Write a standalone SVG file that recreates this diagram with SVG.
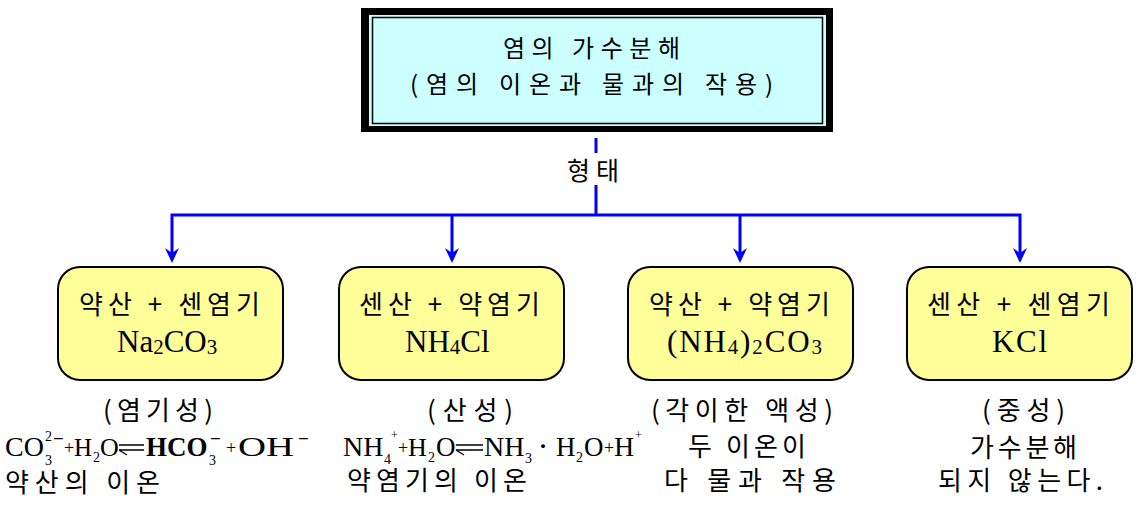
<svg xmlns="http://www.w3.org/2000/svg" width="1137" height="508" viewBox="0 0 1137 508">
<defs>
<style>
.ko{font-family:"Noto Sans CJK KR","Noto Sans",sans-serif;fill:#000;}
.f{font-family:"Liberation Serif","Times New Roman",serif;fill:#000;}
.box{fill:#FFFF99;stroke:#000;stroke-width:2;}
.blue{fill:none;stroke:#0000FF;stroke-width:3;}
.eq{fill:none;stroke:#000;stroke-width:1.4;}
.sb{font-size:14px;}
.sp{font-size:12px;}
.mn{font-size:19px;font-weight:bold;}
.pl{font-size:18px;}
</style>
<marker id="ah" markerUnits="userSpaceOnUse" markerWidth="16" markerHeight="16" refX="5" refY="7" orient="auto-start-reverse">
<path d="M0,0 L15,7 L0,14 L5,7 Z" fill="#0000FF"/>
</marker>
</defs>
<rect width="1137" height="508" fill="#fff"/>

<g id="node-top">
<rect x="361" y="8" width="472" height="124" fill="#000"/>
<rect x="369" y="15" width="457" height="111" fill="#CCFFFF"/>
<rect x="372.5" y="17.5" width="450" height="106" fill="#CCFFFF" stroke="#000" stroke-width="1.5"/>
<text class="ko" x="503" y="57" font-size="24" textLength="177" lengthAdjust="spacing">염의 가수분해</text>
<text class="ko" x="410" y="93" font-size="24" textLength="363" lengthAdjust="spacing">(염의 이온과 물과의 작용)</text>
</g>

<g id="connectors">
<line class="blue" x1="596" y1="138" x2="596" y2="153"/>
<line class="blue" x1="596" y1="185" x2="596" y2="215"/>
<path class="blue" d="M172,253 V215 H1020 V253" marker-start="url(#ah)" marker-end="url(#ah)"/>
<path class="blue" d="M452,215 V253" marker-end="url(#ah)"/>
<path class="blue" d="M740,215 V253" marker-end="url(#ah)"/>
<text class="ko" x="567" y="180" font-size="25" textLength="52" lengthAdjust="spacing">형태</text>
</g>

<g id="node-b1">
<rect class="box" x="58" y="267" width="225" height="113" rx="22"/>
<text class="ko" x="79" y="314" font-size="26" textLength="181" lengthAdjust="spacing">약산 + 센염기</text>
<text class="f" x="117" y="352" font-size="31">Na<tspan font-size="21" dy="2">2</tspan><tspan dy="-2">CO</tspan><tspan font-size="21" dy="2">3</tspan></text>
</g>

<g id="node-b2">
<rect class="box" x="339" y="267" width="225" height="113" rx="22"/>
<text class="ko" x="359" y="314" font-size="26" textLength="181" lengthAdjust="spacing">센산 + 약염기</text>
<text class="f" x="405" y="352" font-size="31">NH<tspan font-size="21" dy="2">4</tspan><tspan dy="-2">Cl</tspan></text>
</g>

<g id="node-b3">
<rect class="box" x="628" y="267" width="225" height="113" rx="22"/>
<text class="ko" x="649" y="314" font-size="26" textLength="181" lengthAdjust="spacing">약산 + 약염기</text>
<text class="f" x="667" y="352" font-size="31" textLength="155" lengthAdjust="spacing">(NH<tspan font-size="21" dy="2">4</tspan><tspan dy="-2">)</tspan><tspan font-size="21" dy="2">2</tspan><tspan dy="-2">CO</tspan><tspan font-size="21" dy="2">3</tspan></text>
</g>

<g id="node-b4">
<rect class="box" x="907" y="267" width="225" height="113" rx="22"/>
<text class="ko" x="927" y="314" font-size="26" textLength="183" lengthAdjust="spacing">센산 + 센염기</text>
<text class="f" x="992" y="352" font-size="31" textLength="55" lengthAdjust="spacing">KCl</text>
</g>

<g id="note-1">
<text class="ko" x="103" y="420" font-size="26" textLength="110" lengthAdjust="spacing">(염기성)</text>
<text class="f" font-size="28"><tspan x="5" y="456">CO</tspan><tspan class="sb" x="45" y="441">2</tspan><tspan class="mn" x="53" y="445">−</tspan><tspan class="sb" x="45" y="465">3</tspan><tspan class="pl" x="64" y="454">+</tspan><tspan x="74" y="456" font-size="25">H</tspan><tspan class="sb" x="93" y="462">2</tspan><tspan x="100" y="456" font-size="26">O</tspan><tspan x="146" y="456" font-size="27" font-weight="bold">HCO</tspan><tspan class="sb" x="209" y="465">3</tspan><tspan class="mn" x="210" y="445">−</tspan><tspan class="pl" x="226" y="454">+</tspan></text>
<text class="f" x="238" y="456" font-size="28" textLength="56" lengthAdjust="spacingAndGlyphs">OH</text>
<text class="f mn" x="298" y="445">−</text>
<path class="eq" d="M119,445 H144 M119,450 H144 M119,450 L127,455"/>
<text class="ko" x="5" y="492" font-size="26" textLength="155" lengthAdjust="spacing">약산의 이온</text>
</g>

<g id="note-2">
<text class="ko" x="427" y="420" font-size="26" textLength="86" lengthAdjust="spacing">(산성)</text>
<text class="f" font-size="28"><tspan x="343" y="456">NH</tspan><tspan class="sb" x="384" y="464">4</tspan><tspan class="sp" x="391" y="439">+</tspan><tspan class="pl" x="398" y="454">+</tspan><tspan x="408" y="456" font-size="26">H</tspan><tspan class="sb" x="428" y="462">2</tspan><tspan x="436" y="456" font-size="27">O</tspan><tspan x="484" y="456">NH</tspan><tspan class="sb" x="525" y="463">3</tspan><tspan x="539" y="454" font-size="24" font-weight="bold">·</tspan><tspan x="556" y="456" font-size="27">H</tspan><tspan class="sb" x="576" y="462">2</tspan><tspan x="584" y="456" font-size="27">O</tspan><tspan class="pl" x="604" y="454">+</tspan><tspan x="614" y="456">H</tspan><tspan class="sp" x="635" y="439">+</tspan></text>
<path class="eq" d="M456,445 H483 M456,450 H483 M456,450 L464,455"/>
<text class="ko" x="347" y="490" font-size="26" textLength="180" lengthAdjust="spacing">약염기의 이온</text>
</g>

<g id="note-3">
<text class="ko" x="651" y="420" font-size="26" textLength="182" lengthAdjust="spacing">(각이한 액성)</text>
<text class="ko" x="688" y="456" font-size="26" textLength="118" lengthAdjust="spacing">두 이온이</text>
<text class="ko" x="664" y="490" font-size="26" textLength="172" lengthAdjust="spacing">다 물과 작용</text>
</g>

<g id="note-4">
<text class="ko" x="982" y="420" font-size="26" textLength="83" lengthAdjust="spacing">(중성)</text>
<text class="ko" x="970" y="457" font-size="26" textLength="107" lengthAdjust="spacing">가수분해</text>
<text class="ko" x="938" y="490" font-size="26" textLength="165" lengthAdjust="spacing">되지 않는다.</text>
</g>
</svg>
